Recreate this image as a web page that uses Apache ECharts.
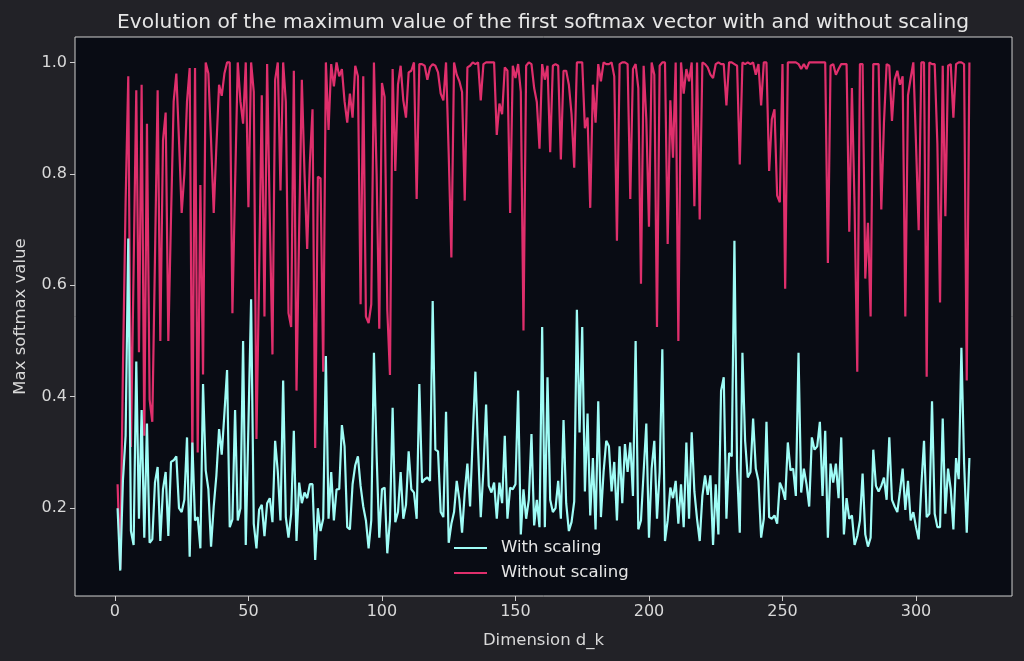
<!DOCTYPE html>
<html>
<head>
<meta charset="utf-8">
<title>Max softmax value</title>
<script src="https://cdn.jsdelivr.net/npm/echarts@6/dist/echarts.min.js"></script>
<style>
  html, body { margin: 0; padding: 0; background: #222227; }
  #chart { width: 1024px; height: 661px; }
</style>
</head>
<body>
<div id="chart"></div>
<script>
// d_k goes 1..320
const dims = []
for (let d = 1; d <= 320; d++) dims.push(d)

const xTicks = [0, 50, 100, 150, 200, 250, 300]
const yTicks = [0.2, 0.4, 0.6, 0.8, 1.0]

// max softmax value, with scaling
const withScaling = [
  0.20, 0.088, 0.25, 0.33, 0.684, 0.159, 0.134, 0.463, 0.181, 0.376,
  0.147, 0.352, 0.138, 0.144, 0.246, 0.274, 0.141, 0.234, 0.265, 0.150,
  0.283, 0.286, 0.293, 0.200, 0.193, 0.215, 0.327, 0.113, 0.318, 0.178,
  0.184, 0.128, 0.423, 0.268, 0.234, 0.131, 0.203, 0.259, 0.342, 0.296,
  0.37, 0.448, 0.166, 0.180, 0.376, 0.178, 0.20, 0.500, 0.134, 0.35,
  0.575, 0.172, 0.128, 0.197, 0.206, 0.150, 0.209, 0.218, 0.175, 0.321,
  0.265, 0.178, 0.429, 0.184, 0.147, 0.190, 0.339, 0.141, 0.246, 0.209,
  0.228, 0.218, 0.243, 0.243, 0.107, 0.200, 0.159, 0.181, 0.473, 0.181,
  0.265, 0.178, 0.234, 0.234, 0.349, 0.311, 0.166, 0.162, 0.243, 0.277,
  0.293, 0.240, 0.203, 0.178, 0.128, 0.178, 0.479, 0.296, 0.147, 0.234,
  0.237, 0.119, 0.178, 0.380, 0.175, 0.193, 0.265, 0.181, 0.206, 0.302,
  0.234, 0.228, 0.181, 0.423, 0.246, 0.252, 0.255, 0.249, 0.572, 0.305,
  0.302, 0.193, 0.184, 0.373, 0.138, 0.172, 0.193, 0.249, 0.215, 0.156,
  0.228, 0.280, 0.203, 0.327, 0.445, 0.308, 0.184, 0.268, 0.386, 0.240,
  0.228, 0.246, 0.181, 0.246, 0.209, 0.330, 0.181, 0.237, 0.234, 0.243,
  0.411, 0.153, 0.234, 0.181, 0.215, 0.333, 0.169, 0.215, 0.166, 0.525,
  0.166, 0.435, 0.215, 0.193, 0.200, 0.249, 0.181, 0.358, 0.209, 0.159,
  0.175, 0.212, 0.556, 0.336, 0.525, 0.230, 0.370, 0.187, 0.290, 0.162,
  0.392, 0.184, 0.265, 0.321, 0.311, 0.230, 0.283, 0.178, 0.311, 0.209,
  0.315, 0.265, 0.318, 0.222, 0.500, 0.162, 0.178, 0.265, 0.352, 0.147,
  0.271, 0.321, 0.181, 0.265, 0.485, 0.141, 0.178, 0.237, 0.218, 0.249,
  0.172, 0.243, 0.166, 0.318, 0.181, 0.336, 0.230, 0.181, 0.141, 0.222,
  0.259, 0.224, 0.259, 0.134, 0.243, 0.153, 0.411, 0.435, 0.181, 0.299,
  0.293, 0.680, 0.271, 0.156, 0.479, 0.321, 0.255, 0.265, 0.361, 0.271,
  0.249, 0.147, 0.181, 0.355, 0.184, 0.181, 0.187, 0.172, 0.246, 0.234,
  0.215, 0.318, 0.268, 0.271, 0.222, 0.479, 0.228, 0.271, 0.243, 0.203,
  0.327, 0.305, 0.311, 0.355, 0.222, 0.339, 0.147, 0.280, 0.246, 0.280,
  0.218, 0.327, 0.153, 0.218, 0.181, 0.187, 0.134, 0.150, 0.178, 0.262,
  0.153, 0.131, 0.147, 0.305, 0.240, 0.230, 0.240, 0.255, 0.215, 0.327,
  0.215, 0.203, 0.193, 0.230, 0.271, 0.197, 0.249, 0.178, 0.193, 0.166,
  0.144, 0.240, 0.321, 0.184, 0.190, 0.392, 0.190, 0.166, 0.166, 0.361,
  0.190, 0.271, 0.234, 0.162, 0.290, 0.252, 0.488, 0.283, 0.156, 0.290
]

// max softmax value, without scaling
const withoutScaling = [
  0.243, 0.091, 0.45, 0.75, 0.975, 0.31, 0.63, 0.95, 0.48, 0.96,
  0.33, 0.89, 0.395, 0.355, 0.65, 0.95, 0.50, 0.86, 0.91, 0.50,
  0.72, 0.93, 0.98, 0.86, 0.73, 0.80, 0.93, 0.99, 0.29, 0.99,
  0.30, 0.78, 0.44, 1.0, 0.98, 0.86, 0.73, 0.85, 0.96, 0.94,
  0.98, 1.0, 1.0, 0.55, 0.78, 1.0, 0.93, 0.89, 1.0, 0.74,
  1.0, 0.947, 0.324, 0.62, 0.941, 0.544, 0.997, 0.72, 0.476, 0.969,
  1.0, 0.770, 1.0, 0.929, 0.550, 0.525, 0.985, 0.411, 0.70, 0.969,
  0.80, 0.665, 0.82, 0.916, 0.308, 0.795, 0.792, 0.445, 1.0, 0.879,
  0.997, 0.957, 1.0, 0.975, 0.988, 0.93, 0.892, 0.944, 0.901, 0.994,
  0.975, 0.566, 0.975, 0.544, 0.532, 0.566, 1.0, 0.80, 0.522, 0.963,
  0.938, 0.556, 0.439, 0.988, 0.805, 0.960, 0.994, 0.932, 0.901, 0.982,
  0.985, 1.0, 0.755, 0.997, 0.997, 0.994, 0.969, 0.991, 0.997, 0.994,
  0.982, 0.944, 0.932, 1.0, 0.836, 0.650, 1.0, 0.978, 0.966, 0.947,
  0.752, 0.991, 0.994, 1.0, 0.997, 1.0, 0.932, 0.997, 1.0, 1.0,
  1.0, 1.0, 0.870, 0.926, 0.907, 0.991, 0.985, 0.730, 0.994, 0.972,
  0.997, 0.947, 0.519, 0.994, 1.0, 0.997, 0.954, 0.929, 0.845, 0.997,
  0.969, 0.994, 0.839, 0.994, 0.997, 0.994, 0.826, 0.985, 0.985, 0.960,
  0.907, 0.811, 1.0, 1.0, 1.0, 0.882, 0.901, 0.739, 0.960, 0.892,
  0.997, 0.966, 1.0, 0.997, 0.997, 1.0, 0.975, 0.680, 0.997, 1.0,
  1.0, 0.997, 0.755, 0.988, 0.997, 0.954, 0.603, 0.994, 0.898, 0.705,
  1.0, 0.978, 0.525, 0.994, 1.0, 1.0, 0.674, 0.932, 0.829, 1.0,
  0.500, 1.0, 0.944, 0.988, 0.966, 1.0, 0.742, 1.0, 0.718, 1.0,
  0.997, 0.991, 0.978, 0.972, 0.997, 1.0, 0.997, 0.997, 0.923, 1.0,
  1.0, 0.997, 0.994, 0.817, 1.0, 0.997, 1.0, 0.997, 1.0, 0.978,
  0.997, 0.923, 1.0, 1.0, 0.805, 0.898, 0.916, 0.761, 0.749, 0.997,
  0.594, 1.0, 1.0, 1.0, 1.0, 0.997, 0.988, 0.997, 0.988, 1.0,
  1.0, 1.0, 1.0, 1.0, 1.0, 1.0, 0.640, 0.994, 0.997, 0.978,
  0.988, 0.997, 0.997, 0.997, 0.696, 0.954, 0.742, 0.445, 0.997, 0.997,
  0.612, 0.712, 0.544, 0.997, 0.997, 0.997, 0.736, 0.892, 0.997, 0.994,
  0.895, 0.969, 0.985, 0.960, 0.975, 0.544, 0.941, 0.972, 1.0, 0.854,
  0.699, 1.0, 1.0, 0.436, 1.0, 0.997, 0.997, 0.854, 0.569, 0.994,
  0.724, 0.994, 0.997, 0.901, 0.997, 1.0, 1.0, 0.997, 0.429, 1.0
]

const textColor = '#d9d9d9'
const font = 'DejaVu Sans'

function pairs(vals) {
  return vals.map((v, i) => [dims[i], v])
}

const chart = echarts.init(document.getElementById('chart'), null, { renderer: 'canvas' })

const option = {
  backgroundColor: '#222227',
  animation: false,
  textStyle: { fontFamily: font },
  title: {
    text: 'Evolution of the maximum value of the first softmax vector with and without scaling',
    left: 538,
    top: 8,
    textAlign: 'center',
    textStyle: { color: '#e6e6e6', fontSize: 20.2, fontWeight: 'normal', fontFamily: font }
  },
  grid: {
    left: 75, right: 12, top: 37, bottom: 65,
    outerBoundsMode: 'none',
    show: true,
    backgroundColor: '#090c14',
    borderColor: '#cfcfcf',
    borderWidth: 1
  },
  legend: {
    orient: 'vertical',
    left: 449,
    top: 534,
    itemWidth: 33,
    itemHeight: 2,
    itemGap: 7,
    icon: 'rect',
    textStyle: { color: '#e6e6e6', fontSize: 16.5, lineHeight: 18, fontFamily: font, padding: [0, 0, 0, 9] },
    data: ['With scaling', 'Without scaling']
  },
  xAxis: {
    type: 'value',
    min: -14.95,
    max: 335.95,
    name: 'Dimension d_k',
    nameLocation: 'middle',
    nameGap: 36,
    nameTextStyle: { color: textColor, fontSize: 16.5, fontFamily: font },
    axisLine: { show: false, onZero: false },
    splitLine: { show: false },
    axisTick: { show: true, length: 5, lineStyle: { color: '#cfcfcf' }, customValues: xTicks },
    axisLabel: { color: textColor, fontSize: 16, margin: 8, customValues: xTicks, formatter: v => String(v) }
  },
  yAxis: {
    type: 'value',
    min: 0.0424,
    max: 1.0456,
    name: 'Max softmax value',
    nameLocation: 'middle',
    nameGap: 46,
    nameRotate: 90,
    nameTextStyle: { color: textColor, fontSize: 16.5, fontFamily: font },
    axisLine: { show: false, onZero: false },
    splitLine: { show: false },
    axisTick: { show: true, length: 5, lineStyle: { color: '#cfcfcf' }, customValues: yTicks },
    axisLabel: { color: textColor, fontSize: 16, margin: 8, customValues: yTicks, formatter: v => v.toFixed(1) }
  },
  series: [
    {
      name: 'With scaling',
      type: 'line',
      data: pairs(withScaling),
      showSymbol: false,
      color: '#9ffcf6',
      lineStyle: { width: 2.2, color: '#9ffcf6' },
      z: 3
    },
    {
      name: 'Without scaling',
      type: 'line',
      data: pairs(withoutScaling),
      showSymbol: false,
      color: '#df2f6c',
      lineStyle: { width: 2.2, color: '#df2f6c' },
      z: 2
    }
  ]
}

chart.setOption(option)
</script>
</body>
</html>
